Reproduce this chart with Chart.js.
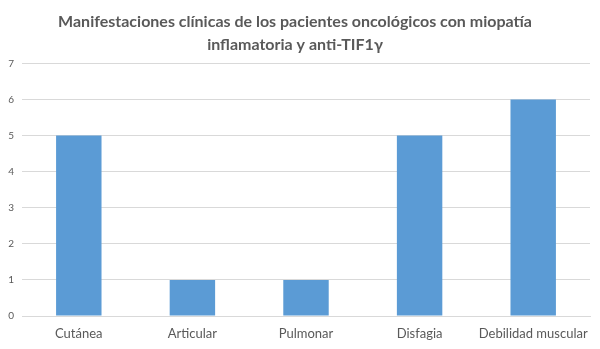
<!DOCTYPE html>
<html>
<head>
<meta charset="utf-8">
<script src="https://cdn.jsdelivr.net/npm/chart.js@4"></script>
<style>
  html, body { margin: 0; padding: 0; background: #fff; }
  #wrap { width: 600px; height: 349px; }
</style>
</head>
<body>
<div id="wrap"><canvas id="barChart"></canvas></div>
<script>
// Chart data
const categories = ['Cutánea', 'Articular', 'Pulmonar', 'Disfagia', 'Debilidad muscular'];
const values = [5, 1, 1, 5, 6];
const yTicks = [0, 1, 2, 3, 4, 5, 6, 7];
const titleLines = ['Manifestaciones clínicas de los pacientes oncológicos con miopatía',
                    'inflamatoria y anti-TIF1γ'];

const ctx = document.getElementById('barChart').getContext('2d');
const textColor = '#595959';
const fontFamily = 'Lato, "Open Sans", sans-serif';

const barChart = new Chart(ctx, {
  type: 'bar',
  data: {
    labels: categories,
    datasets: [{
      data: values,
      backgroundColor: '#5b9bd5',
      borderWidth: 0,
      barPercentage: 0.4,
      categoryPercentage: 1.0
    }]
  },
  options: {
    responsive: true,
    maintainAspectRatio: false,
    animation: false,
    layout: {padding: {left: 0, right: 10, top: 0, bottom: 0}},
    plugins: {
      legend: {display: false},
      tooltip: {enabled: false},
      title: {
        display: true,
        text: titleLines,
        color: textColor,
        font: {family: fontFamily, size: 16, weight: 'bold', lineHeight: 1.45},
        padding: {top: 10, bottom: 7}
      }
    },
    scales: {
      x: {
        grid: {display: false},
        border: {color: '#d9d9d9'},
        ticks: {
          color: textColor,
          font: {family: fontFamily, size: 13},
          padding: 2,
          maxRotation: 0,
          minRotation: 0,
          autoSkip: false
        },
        afterFit: (scale) => { scale.height = 33; }
      },
      y: {
        min: 0,
        max: 7,
        afterBuildTicks: (scale) => { scale.ticks = yTicks.map(v => ({value: v})); },
        grid: {color: '#d9d9d9', drawTicks: false},
        border: {display: false},
        ticks: {color: textColor, font: {family: fontFamily, size: 10}, padding: 8},
        afterFit: (scale) => { scale.width = 22; }
      }
    }
  }
});
</script>
</body>
</html>
